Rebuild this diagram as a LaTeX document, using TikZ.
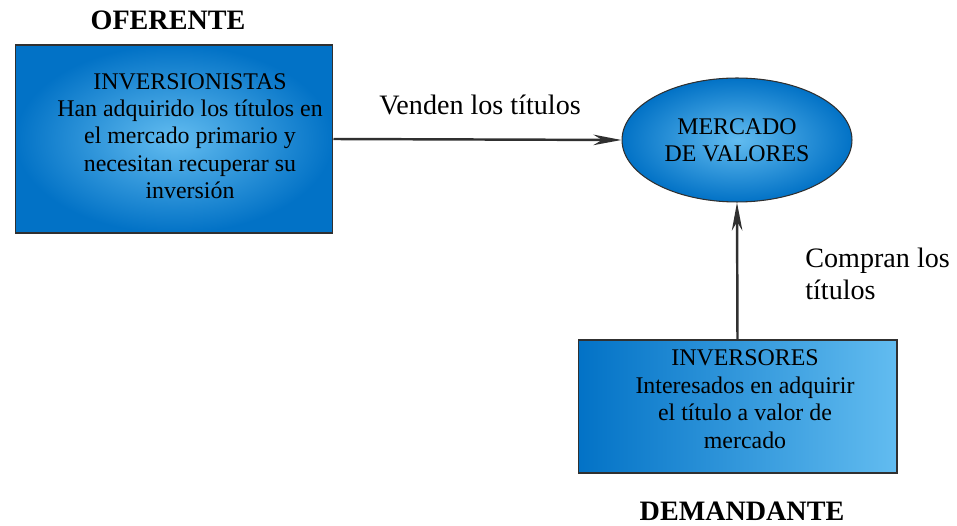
\documentclass[tikz,border=0pt]{standalone}
\usepackage{fontspec}
\setmainfont{Liberation Serif}
\usepackage{tikz}
\usetikzlibrary{shapes.geometric, arrows.meta}
\definecolor{azulclaro}{HTML}{62BCF0}
\definecolor{azuloscuro}{HTML}{0272C6}
\definecolor{borde}{HTML}{303030}

\begin{document}
\begin{tikzpicture}[x=0.02cm, y=-0.02cm,
  caja/.style={draw=borde, line width=0.6pt, inner sep=0pt, align=center, font=\fontsize{13.6}{15.6}\selectfont},
  flecha/.style={draw=borde, line width=1.4pt, -{Stealth[length=16pt, width=6pt, inset=5pt]}},
  rotulo/.style={font=\fontsize{16}{18.1}\selectfont},
  titulo/.style={font=\fontsize{16}{18}\selectfont\bfseries}]
\useasboundingbox (0,0) rectangle (957,526);
\coordinate (O) at (174,139);
\coordinate (M) at (737,140);
\coordinate (D) at (737.5,406.5);
\node at (O) [name=oferente, caja, minimum width=6.36cm, minimum height=3.76cm,
  shading=radial, inner color=azulclaro, outer color=azuloscuro]
  {\raisebox{0.01cm}[\height][\depth]{\begin{tabular}{@{}c@{}}INVERSIONISTAS\\Han adquirido los títulos en\\el mercado primario y\\necesitan recuperar su\\inversión\end{tabular}}\hspace{-0.64cm}};
\node at (M) [name=mercado, caja, ellipse, minimum width=4.6cm, minimum height=2.48cm,
  shading=radial, inner color=azulclaro, outer color=azuloscuro]
  {MERCADO\\DE VALORES};
\node at (D) [name=demandante, caja, minimum width=6.38cm, minimum height=2.66cm,
  left color=azuloscuro, right color=azulclaro]
  {\raisebox{0.10cm}[\height][\depth]{\begin{tabular}{@{}c@{}}INVERSORES\\Interesados en adquirir\\el título a valor de\\mercado\end{tabular}}\hspace{-0.3cm}};
\node at (168,20) [name=tof, titulo] {OFERENTE};
\node at (742,511) [name=tdem, titulo] {DEMANDANTE};
\draw [flecha] (oferente.east) -- (mercado.west);
\draw [flecha] (demandante.north) -- (mercado.south);
\node at (480,105) [name=venden, rotulo] {Venden los títulos};
\node at (805,274) [name=compran, rotulo, anchor=west, align=left, inner sep=0pt] {Compran los\\títulos};
\end{tikzpicture}
\end{document}
